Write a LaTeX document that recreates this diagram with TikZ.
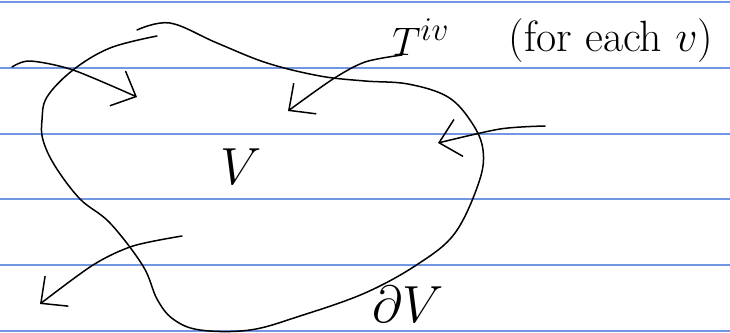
\documentclass[tikz,border=0pt]{standalone}
\usepackage{amsmath,amssymb}
\usepackage{xcolor}
\usepackage{tikz}
\usetikzlibrary{arrows.meta,calc}

\definecolor{ruleblue}{RGB}{112,150,228}

\begin{document}
\begin{tikzpicture}[
  x=1pt, y=-1pt,
  pen/.style ={line width=1.5pt, line cap=round, line join=round},
  rule/.style={line width=1.6pt, ruleblue},
  arr/.style ={pen, -{Straight Barb[length=20pt,width=38pt]}},
  big/.style ={inner sep=0pt, font=\Huge, scale=2.1},
  note/.style={inner sep=0pt, font=\Huge, scale=1.6}
]

%% ---- Paper -------------------------------------------------------
\fill[white] (0,0) rectangle (730,332);
\useasboundingbox (0,0) rectangle (730,332);
\foreach \ry in {2,68,134,199,265,331}
  \draw[rule] (0,\ry) -- (730,\ry);

%% ---- Region and its boundary --------------------------------------
\draw[pen] plot[smooth, tension=0.6] coordinates {
  (137,30) (170,23) (217,43) (267,63) (320,76) (365,81) (408,84)
  (448,97) (472,123) (483,150) (479,182) (455,233) (418,264)
  (365,293) (300,316) (250,330) (200,330) (173,319) (157,299)
  (143,266) (110,223) (80,199) (55,166) (43,140) (42,120)
  (47,97) (73,70) (110,48) (157,36)};

%% ---- Labels -------------------------------------------------------
\node[big]  (vol)  at (241,167) {$V$};
\node[big, anchor=base] (bdry) at (408,322) {$\partial V$};
\node[note, anchor=base west] (flux) at (392,55) {$T^{iv}$};
\node[note, scale=1.1] (each) at (611,41) {(for each $v$)};

%% ---- Arrow ends ---------------------------------------------------
\coordinate (inA)  at (12,67);   \coordinate (tipA) at (137,97);
\coordinate (inB)  at ($(flux.base west)+(10,0)$);
\coordinate (tipB) at (288,111);
\coordinate (inC)  at (545,126); \coordinate (tipC) at (438,143);
\coordinate (inD)  at (182,236); \coordinate (tipD) at (40,304);

%% ---- Arrows -------------------------------------------------------
\draw[arr] plot[smooth] coordinates {(inA) (30,61) (73,70) (tipA)};
\draw[arr] plot[smooth] coordinates {(inB) (365,62) (333,79) (tipB)};
\draw[arr] plot[smooth] coordinates {(inC) (500,129) (tipC)};
\draw[arr] plot[smooth] coordinates {(inD) (133,246) (93,265) (tipD)};

\end{tikzpicture}
\end{document}
